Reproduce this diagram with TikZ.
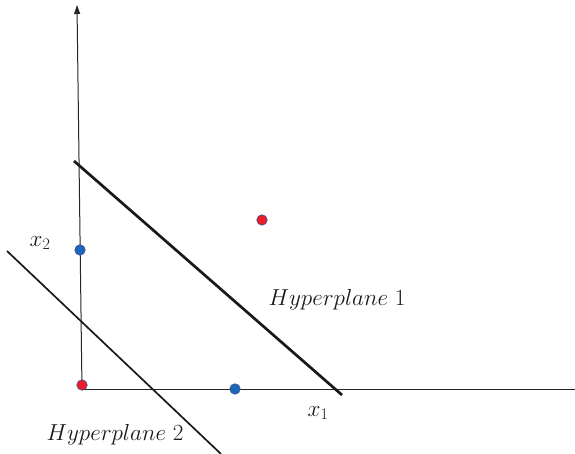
\documentclass[tikz,border=0pt]{standalone}
\usetikzlibrary{arrows.meta}
\definecolor{ptred}{RGB}{232,30,42}
\definecolor{ptblue}{RGB}{28,104,184}
\definecolor{ptedge}{RGB}{60,80,140}
\tikzset{
  axis/.style={draw=black!85, line width=1pt},
  hyper/.style={draw=black!90},
  pt/.style={circle, draw=ptedge, line width=0.6pt, minimum size=10.5pt, inner sep=0pt},
  redpt/.style={pt, fill=ptred},
  bluept/.style={pt, fill=ptblue},
  lbl/.style={font=\fontsize{23.5}{28}\selectfont, text=black!90, inner sep=0pt, scale=0.93, transform shape},
}
\begin{document}
\begin{tikzpicture}[x=1pt,y=1pt]
\useasboundingbox (0,0) rectangle (575,454);
% axes
\coordinate (o) at (82,64);
\coordinate (ytop) at (77,449);
\coordinate (xend) at (575,64);
\draw[axis, -{Triangle[length=9pt,width=6pt]}] (o) -- (ytop);
\draw[axis] (o) -- (xend);
% hyperplanes
\coordinate (h1a) at (74,293);
\coordinate (h1b) at (342,59);
\coordinate (h2a) at (7,203);
\coordinate (h2b) at (221,0);
\draw[hyper, line width=2.7pt] (h1a) -- (h1b);
\draw[hyper, line width=1.7pt] (h2a) -- (h2b);
% points
\node[redpt] (p1) at (82,69) {};
\node[bluept] (p2) at (80,204) {};
\node[redpt] (p3) at (262,234) {};
\node[bluept] (p4) at (235,65) {};
% labels
\node[lbl] (lx2) at (40,211) {$x_2$};
\node[lbl] (lx1) at (318,41) {$x_1$};
\node[lbl] (lh1) at (337,154) {$Hyperplane\ 1$};
\node[lbl] (lh2) at (115,19) {$Hyperplane\ 2$};
\end{tikzpicture}
\end{document}
